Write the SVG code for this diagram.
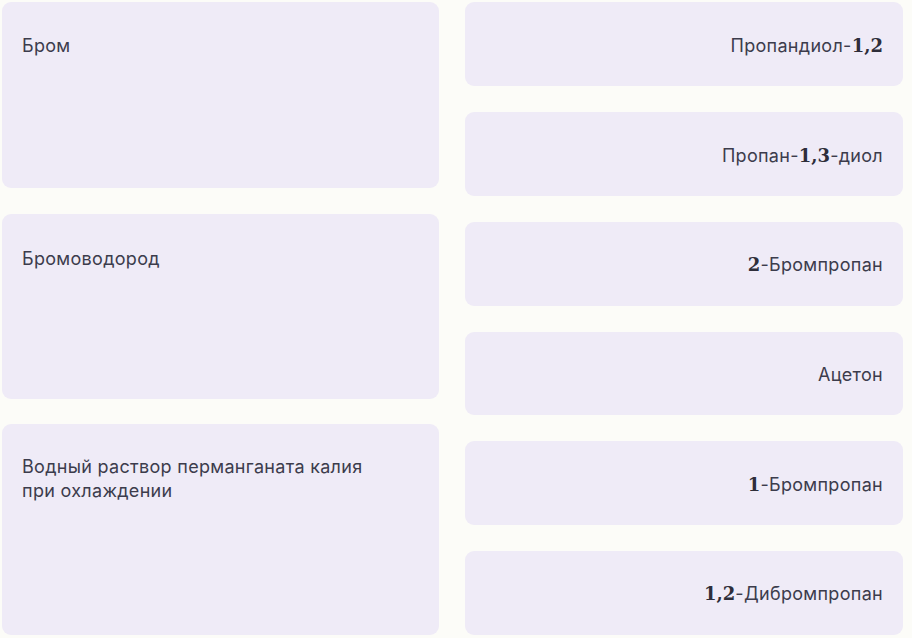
<svg xmlns="http://www.w3.org/2000/svg" width="912" height="638" viewBox="0 0 912 638">
<style>
.bg{fill:#fcfcf8}
.box{fill:#efebf7}
.t{font-family:Inter,"Noto Sans","Liberation Sans",sans-serif;font-size:18px;letter-spacing:0.3px;fill:#3c3c4c}
.r{text-anchor:end}
.n{font-family:"DejaVu Serif","Liberation Serif",serif;font-weight:bold;font-size:18px;letter-spacing:0;fill:#2e2e3a}
</style>
<rect class="bg" x="0" y="0" width="912" height="638"/>
<g id="left1"><rect class="box" x="2" y="2" width="437" height="186" rx="9"/><text class="t" x="22" y="52">Бром</text></g>
<g id="left2"><rect class="box" x="2" y="214" width="437" height="185" rx="9"/><text class="t" x="22" y="265">Бромоводород</text></g>
<g id="left3"><rect class="box" x="2" y="424" width="437" height="211" rx="9"/><text class="t" x="22" y="473">Водный раствор перманганата калия</text><text class="t" x="22" y="497">при охлаждении</text></g>
<g id="right1"><rect class="box" x="465" y="2" width="438" height="84" rx="9"/><text class="t r" x="883" y="52">Пропандиол-<tspan class="n">1,2</tspan></text></g>
<g id="right2"><rect class="box" x="465" y="112" width="438" height="84" rx="9"/><text class="t r" x="883" y="162">Пропан-<tspan class="n">1,3</tspan>-диол</text></g>
<g id="right3"><rect class="box" x="465" y="222" width="438" height="84" rx="9"/><text class="t r" x="883" y="271"><tspan class="n">2</tspan>-Бромпропан</text></g>
<g id="right4"><rect class="box" x="465" y="332" width="438" height="83" rx="9"/><text class="t r" x="883" y="381">Ацетон</text></g>
<g id="right5"><rect class="box" x="465" y="441" width="438" height="84" rx="9"/><text class="t r" x="883" y="491"><tspan class="n">1</tspan>-Бромпропан</text></g>
<g id="right6"><rect class="box" x="465" y="551" width="438" height="84" rx="9"/><text class="t r" x="883" y="600"><tspan class="n">1,2</tspan>-Дибромпропан</text></g>
<g id="connectors"/>
</svg>
